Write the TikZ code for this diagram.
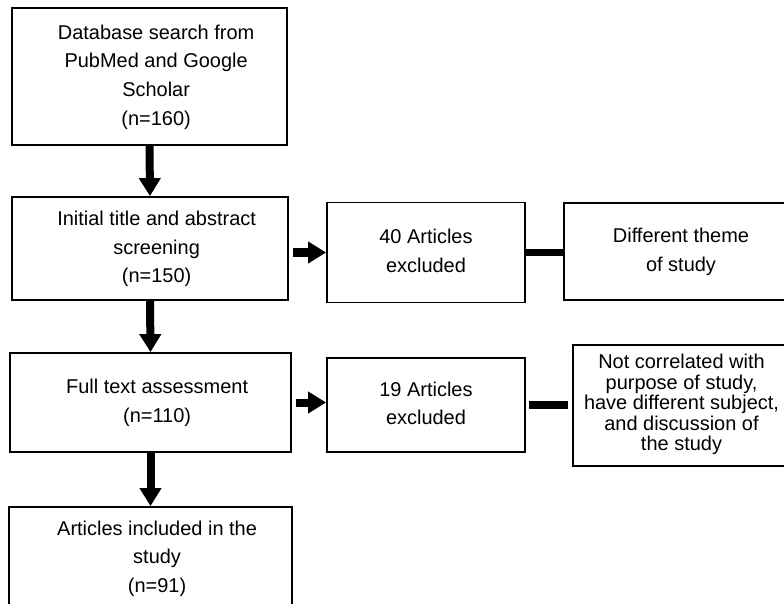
\documentclass[tikz,border=0pt]{standalone}
\usepackage{fontspec}
\setmainfont{Liberation Sans}
\usepackage{xcolor}
\usepackage{tikz}
\usetikzlibrary{calc,arrows.meta}
\definecolor{ink}{HTML}{000000}
\tikzset{
  box/.style={draw=ink, line width=1.2pt, rectangle, inner sep=0pt, text=ink, font=\fontsize{14.2}{20.3}\selectfont},
  tight/.style={font=\fontsize{14.2}{14.4}\selectfont},
  flow/.style={draw=ink, line width=0.2cm, -{Triangle[width=0.52cm,length=0.45cm]}},
  link/.style={draw=ink, line width=0.18cm},
}
\newcommand{\stack}[2][0cm]{\hspace*{#1}\begin{tabular}{@{}c@{}}#2\end{tabular}}

\begin{document}
\begin{tikzpicture}[x=0.025cm, y=-0.025cm]
  \useasboundingbox (0,0) rectangle (784,604);
  \clip (0,0) rectangle (784,604);
  \node[box, minimum width=6.875cm, minimum height=3.425cm] (search) at (149.5,76.5) {\stack[0.33cm]{Database search from\\PubMed and Google\\Scholar\\(n=160)}};
  \node[box, minimum width=6.9cm, minimum height=2.575cm] (screen) at (150,248.5) {\stack[0.33cm]{Initial title and abstract\\screening\\(n=150)}};
  \node[box, minimum width=7.025cm, minimum height=2.475cm] (full) at (150.5,402.5) {\stack[0.33cm]{Full text assessment\\(n=110)}};
  \node[box, minimum width=7.075cm, minimum height=2.55cm] (incl) at (150.5,558) {\stack[0.33cm]{Articles included in the\\study\\(n=91)}};
  \node[box, minimum width=4.95cm, minimum height=2.5cm] (excl1) at (426,252.5) {\stack{40 Articles\\excluded}};
  \node[box, minimum width=4.95cm, minimum height=2.35cm] (excl2) at (426,405) {\stack{19 Articles\\excluded}};
  \node[box, minimum width=5.85cm, minimum height=2.425cm] (theme) at (681,251.5) {\stack{Different theme\\of study}};
  \node[box, tight, minimum width=5.425cm, minimum height=3.025cm] (reason) at (681.5,405.5) {\stack{Not correlated with\\purpose of study,\\have different subject,\\and discussion of\\the study}};
  \draw[flow] (search.south) -- (screen.north);
  \draw[flow] (screen.south) -- (full.north);
  \draw[flow] (full.south) -- (incl.north);
  \draw[flow, shorten <=0.1cm] (screen.east |- excl1.west) -- (excl1.west);
  \draw[flow, shorten <=0.1cm] (full.east) -- (full.east -| excl2.west);
  \draw[link] (excl1.east) -- (excl1.east -| theme.west);
  \draw[link, shorten <=0.08cm, shorten >=0.1cm] (excl2.east) -- (excl2.east -| reason.west);
\end{tikzpicture}
\end{document}
